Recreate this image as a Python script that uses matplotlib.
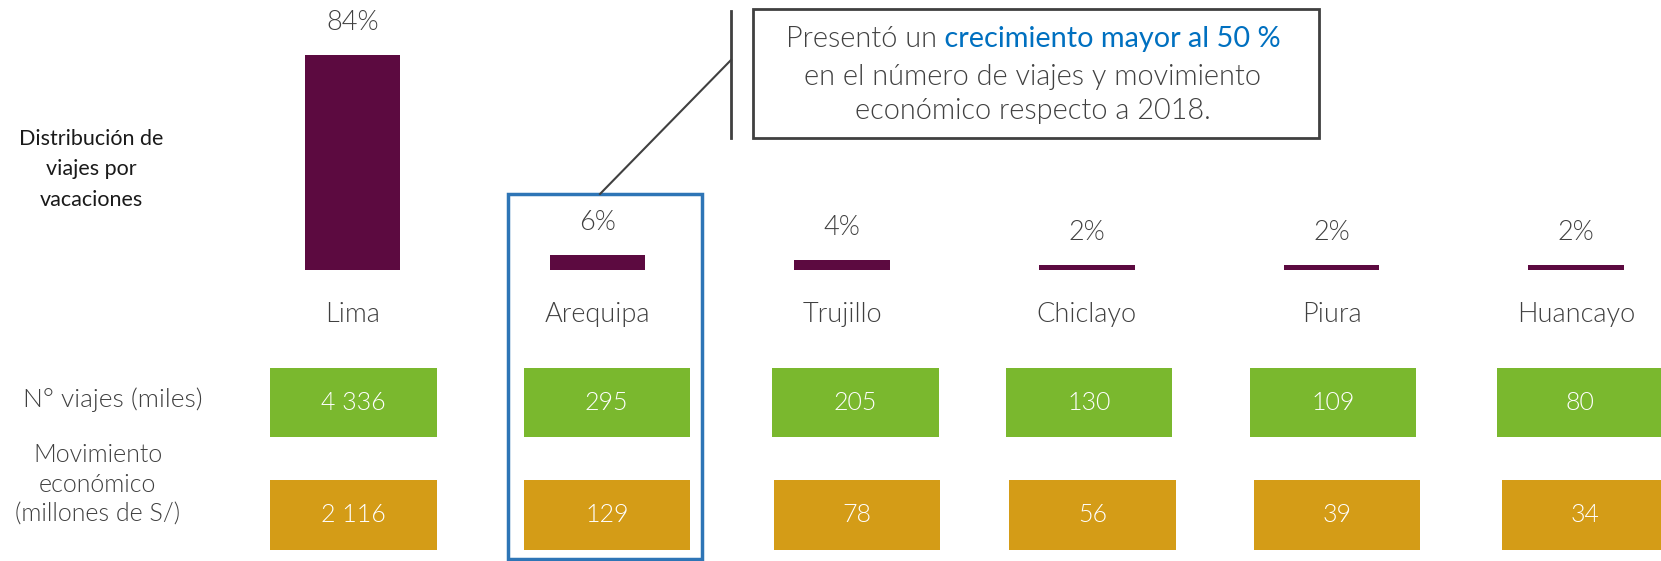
import matplotlib
matplotlib.use("Agg")
import matplotlib.pyplot as plt
from matplotlib.patches import Rectangle
from matplotlib.lines import Line2D

plt.rcParams['font.family'] = ['Lato', 'DejaVu Sans']

ciudades = ['Lima', 'Arequipa', 'Trujillo', 'Chiclayo', 'Piura', 'Huancayo']
distribucion = [84, 6, 4, 2, 2, 2]
viajes = ['4 336', '295', '205', '130', '109', '80']
movimiento = ['2 116', '129', '78', '56', '39', '34']

morado = '#5c0a40'
verde = '#7ab82e'
dorado = '#d49c17'
azul = '#2e75b6'
gris = '#404040'
ligero = 300

W, H = 1661, 561
fig = plt.figure(figsize=(W / 100, H / 100), dpi=100)
ax = fig.add_axes([0, 0, 1, 1])
ax.axis('off')

# 1 unit in x = 244.7 px, 1 unit in y = 2.56 px; baseline at 270 px from top
ax.set_xlim(-352.7 / 244.7, (W - 352.7) / 244.7)
ax.set_ylim(-(H - 270) / 2.56, 270 / 2.56)

x = list(range(len(ciudades)))
ax.bar(x, distribucion, width=0.39, color=morado)
for xi, v in zip(x, distribucion):
    ax.annotate(f'{v}%', (xi, v), xytext=(0, 32), textcoords='offset pixels',
                ha='center', va='center', fontsize=19.5, color=gris, fontweight=ligero)
for xi, c in zip(x, ciudades):
    ax.text(xi, -17.4, c, ha='center', va='center', fontsize=19.5, color=gris, fontweight=ligero)

# boxes with values (slightly shifted in the original layout)
desp_verde = [0.003, 0.038, 0.055, 0.009, 0.006, 0.016]
desp_dorado = [0.003, 0.039, 0.061, 0.023, 0.023, 0.035]
xv = [a + d for a, d in zip(x, desp_verde)]
xd = [a + d for a, d in zip(x, desp_dorado)]
ax.bar(xv, [26.9] * 6, bottom=-65.2, width=0.68, color=verde)
ax.bar(xd, [27.3] * 6, bottom=-109.4, width=0.68, color=dorado)
for a, b, tv, tm in zip(xv, xd, viajes, movimiento):
    ax.text(a, -51.8, tv, ha='center', va='center', fontsize=18, color='white', fontweight=ligero)
    ax.text(b, -95.7, tm, ha='center', va='center', fontsize=18, color='white', fontweight=ligero)

# row labels
fig.text(0.068, 0.287, 'N° viajes (miles)', ha='center', va='center', fontsize=19,
         color=gris, fontweight=ligero)
fig.text(0.0587, 0.1355, 'Movimiento\neconómico\n(millones de S/)', ha='center', va='center',
         fontsize=18, color=gris, fontweight=ligero, linespacing=1.3)
fig.text(0.0548, 0.698, 'Distribución de\nviajes por\nvacaciones', ha='center', va='center',
         fontsize=15.5, color='#1a1a1a', linespacing=1.65)

# highlight around Arequipa
ax.add_patch(Rectangle((1 - 0.365, -112.9), 0.793, 142.6, fill=False, edgecolor=azul,
                       linewidth=2.5, clip_on=False))

# callout
fig.add_artist(Rectangle((753 / W, 1 - 138 / H), (1319 - 753) / W, (138 - 8.5) / H,
                         transform=fig.transFigure, fill=False, edgecolor=gris, linewidth=2))
fig.add_artist(Line2D([731 / W, 731 / W], [1 - 11 / H, 1 - 138 / H], color=gris, linewidth=2))
fig.add_artist(Line2D([600 / W, 731 / W], [1 - 194 / H, 1 - 60 / H], color=gris, linewidth=1.5))

cx = 1033 / W
t1 = fig.text(cx, 1 - 39 / H, 'Presentó un', ha='left', va='center', fontsize=20.8,
              color=gris, fontweight=ligero)
t2 = fig.text(cx, 1 - 39 / H, ' crecimiento mayor al 50 %', ha='left', va='center',
              fontsize=20.8, color='#0070c0')
fig.text(cx, 1 - 77 / H, 'en el número de viajes y movimiento', ha='center', va='center',
         fontsize=20.8, color=gris, fontweight=ligero)
fig.text(cx, 1 - 111 / H, 'económico respecto a 2018.', ha='center', va='center',
         fontsize=20.8, color=gris, fontweight=ligero)

fig.canvas.draw()
r = fig.canvas.get_renderer()
w1 = t1.get_window_extent(r).width
w2 = t2.get_window_extent(r).width
x0 = cx * W - (w1 + w2) / 2
t1.set_x(x0 / W)
t2.set_x((x0 + w1) / W)

fig.savefig('out.png', dpi=100)
